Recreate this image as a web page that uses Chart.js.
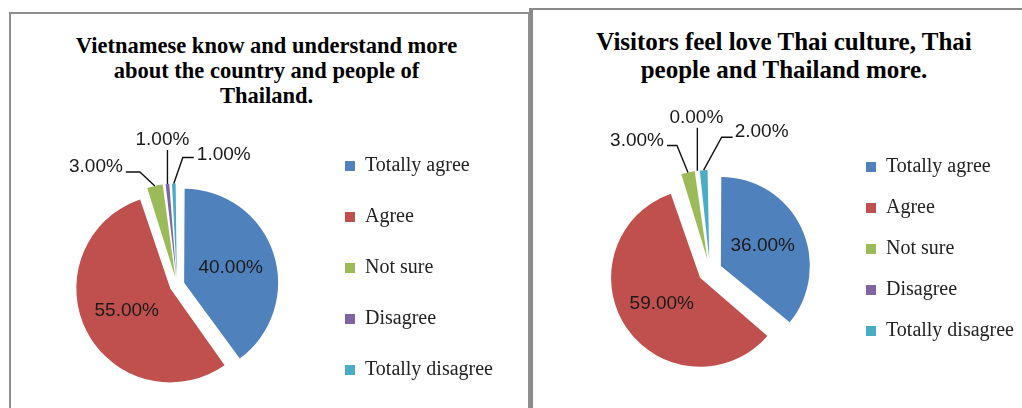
<!DOCTYPE html>
<html>
<head>
<meta charset="utf-8">
<script src="https://cdn.jsdelivr.net/npm/chart.js@4.4.1/dist/chart.umd.min.js"></script>
<style>
  html, body { margin: 0; padding: 0; background: #fff; overflow: hidden; }
  body { width: 1022px; height: 408px; position: relative; }
  .frame { position: absolute; box-sizing: border-box; background: #fff; }
  #frameKnow { left: 9px; top: 12px; width: 521px; height: 420px; border: 2px solid #8f8f8f; }
  #frameLove { left: 529px; top: 8px; width: 520px; height: 420px; border-top: 2px solid #8a8a8a; border-left: 4px solid #8a8a8a; }
  .title {
    position: absolute; width: 500px; text-align: center; color: #000;
    font-family: "Liberation Serif", "Times New Roman", serif; font-weight: bold;
    white-space: nowrap;
  }
  #titleKnow { left: 16.5px; top: 33px; font-size: 22.5px; line-height: 25px; }
  #titleLove { left: 534px; top: 28px; font-size: 25px; line-height: 28px; }
  canvas { position: absolute; top: 0; }
  #pieKnow { left: 0; }
  #pieLove { left: 532px; }
</style>
</head>
<body>
<div class="frame" id="frameKnow"></div>
<div class="frame" id="frameLove"></div>
<div class="title" id="titleKnow"></div>
<div class="title" id="titleLove"></div>
<canvas id="pieKnow" width="528" height="460"></canvas>
<canvas id="pieLove" width="495" height="420"></canvas>
<script>
const answers = ["Totally agree", "Agree", "Not sure", "Disagree", "Totally disagree"];
const knowShares = [40, 55, 3, 1, 1];
const loveShares = [36, 59, 3, 0, 2];
const knowTitle = ["Vietnamese know and understand more", "about the country and people of", "Thailand."];
const loveTitle = ["Visitors feel love Thai culture, Thai", "people and Thailand more."];

const sliceColors = ["#4F81BD", "#C0504D", "#9BBB59", "#8064A2", "#4BACC6"];
const serif = '"Liberation Serif", "Times New Roman", serif';
const sans = '"Liberation Sans", Arial, sans-serif';

// leader lines for the thin slices: elbow, line end and text spot, relative to the slice rim
const knowCallouts = [null, null,
  { elbow: [-15, -14], end: [-29, -14], text: [-32, -19], align: "right" },
  { elbow: [0, -34], end: [0, -34], text: [-5, -44], align: "center" },
  { elbow: [9, -26], end: [20, -26], text: [23, -29], align: "left" }];
const loveCallouts = [null, null,
  { elbow: [-11, -27], end: [-21, -27], text: [-24, -32], align: "right" },
  { elbow: [0, -43], end: [0, -43], text: [-1, -53], align: "center" },
  { elbow: [18, -33], end: [29, -33], text: [31, -38], align: "left" }];

function setTitle(id, lines) {
  const box = document.getElementById(id);
  lines.forEach((line, i) => {
    if (i) box.appendChild(document.createElement("br"));
    box.appendChild(document.createTextNode(line));
  });
}

function percentLabels(callouts) {
  return {
    id: "percentLabels",
    beforeDatasetDraw(chart, args) {
      // an offset arc also grows its radius; pull it back so all pieces share one rim
      const R = args.meta.controller.outerRadius;
      args.meta.data.forEach(arc => {
        const shift = (arc.options.offset || 0) / 4;
        const fix = 1 - Math.sin(Math.min(Math.PI, arc.endAngle - arc.startAngle));
        arc.outerRadius = R - shift * fix;
      });
    },
    afterDatasetsDraw(chart) {
      const meta = chart.getDatasetMeta(0);
      const R = meta.controller.outerRadius;
      const values = chart.data.datasets[0].data;
      const ctx = chart.ctx;
      ctx.save();
      ctx.font = "19px " + sans;
      ctx.fillStyle = "#1a1a1a";
      ctx.strokeStyle = "#111";
      ctx.lineWidth = 1.4;
      ctx.textBaseline = "middle";
      meta.data.forEach((arc, i) => {
        const mid = (arc.startAngle + arc.endAngle) / 2;
        const shift = (arc.options.offset || 0) / 4;
        const cos = Math.cos(mid), sin = Math.sin(mid);
        const text = values[i].toFixed(2) + "%";
        const call = callouts[i];
        if (!call) {
          const d = shift + R * 0.52;
          ctx.textAlign = "center";
          ctx.fillText(text, arc.x + cos * d, arc.y + sin * d);
          return;
        }
        const ax = arc.x + cos * (shift + R);
        const ay = arc.y + sin * (shift + R);
        ctx.beginPath();
        ctx.moveTo(ax, ay);
        ctx.lineTo(ax + call.elbow[0], ay + call.elbow[1]);
        ctx.lineTo(ax + call.end[0], ay + call.end[1]);
        ctx.stroke();
        ctx.textAlign = call.align;
        ctx.fillText(text, ax + call.text[0], ay + call.text[1]);
      });
      ctx.restore();
    }
  };
}

function drawPie(id, shares, callouts, look) {
  return new Chart(document.getElementById(id), {
    type: "pie",
    data: {
      labels: answers,
      datasets: [{
        data: shares,
        backgroundColor: sliceColors,
        borderWidth: 0,
        offset: look.explode * 4,
        clip: false
      }]
    },
    options: {
      responsive: false,
      animation: false,
      events: [],
      radius: look.radius,
      layout: { padding: look.padding },
      plugins: {
        title: { display: false },
        legend: {
          position: "right",
          align: "start",
          labels: {
            boxWidth: 10,
            boxHeight: 10,
            padding: look.legendGap,
            color: "#222",
            font: { family: serif, size: 20 }
          }
        },
        tooltip: { enabled: false }
      }
    },
    plugins: [percentLabels(callouts)]
  });
}

setTitle("titleKnow", knowTitle);
setTitle("titleLove", loveTitle);

drawPie("pieKnow", knowShares, knowCallouts, {
  radius: 94, explode: 7.5,
  padding: { left: 40, right: 25, top: 125, bottom: 15 },
  legendGap: 31
});

drawPie("pieLove", loveShares, loveCallouts, {
  radius: 89, explode: 12,
  padding: { left: 43, right: 3, top: 136, bottom: 14 },
  legendGap: 21
});
</script>
</body>
</html>
